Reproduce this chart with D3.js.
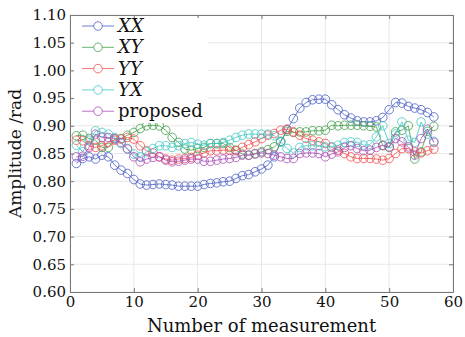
<!DOCTYPE html>
<html>
<head>
<meta charset="utf-8">
<script src="https://cdn.jsdelivr.net/npm/d3@7"></script>
<style>
  body { margin: 0; background: #fff; }
  svg text { font-family: "DejaVu Serif", "Liberation Serif", serif; }
</style>
</head>
<body>
<figure id="chart" style="margin:0"></figure>
<script>
const SERIES_NAMES = ["XX", "XY", "YY", "YX", "proposed"];
const COLORS = ["#4a5ec6", "#44a04c", "#f24f4f", "#40c6c6", "#a84eb6"];
const X_TICKS = [0, 10, 20, 30, 40, 50, 60];
const Y_TICKS = [0.60, 0.65, 0.70, 0.75, 0.80, 0.85, 0.90, 0.95, 1.00, 1.05, 1.10];

// measurement index 1..57
const xx = [0.832, 0.841, 0.844, 0.840, 0.847, 0.844, 0.829, 0.820, 0.814, 0.803,
  0.795, 0.793, 0.794, 0.795, 0.794, 0.793, 0.791, 0.791, 0.791, 0.791,
  0.794, 0.796, 0.797, 0.799, 0.800, 0.805, 0.810, 0.812, 0.817, 0.822,
  0.829, 0.844, 0.871, 0.893, 0.913, 0.932, 0.942, 0.947, 0.948, 0.948,
  0.938, 0.929, 0.920, 0.914, 0.909, 0.907, 0.907, 0.909, 0.915, 0.929,
  0.942, 0.941, 0.935, 0.932, 0.929, 0.924, 0.916];
const xy = [0.882, 0.883, 0.877, 0.874, 0.861, 0.861, 0.876, 0.877, 0.883, 0.888,
  0.895, 0.900, 0.901, 0.900, 0.892, 0.879, 0.870, 0.858, 0.856, 0.859,
  0.861, 0.868, 0.868, 0.868, 0.861, 0.856, 0.849, 0.847, 0.850, 0.853,
  0.857, 0.862, 0.872, 0.890, 0.888, 0.889, 0.889, 0.891, 0.891, 0.892,
  0.901, 0.900, 0.901, 0.901, 0.901, 0.900, 0.899, 0.898, 0.864, 0.861,
  0.889, 0.892, 0.900, 0.840, 0.853, 0.890, 0.899];
const yy = [0.874, 0.873, 0.864, 0.861, 0.864, 0.870, 0.874, 0.876, 0.879, 0.876,
  0.864, 0.855, 0.851, 0.844, 0.840, 0.838, 0.840, 0.841, 0.843, 0.847,
  0.851, 0.855, 0.855, 0.856, 0.856, 0.855, 0.861, 0.866, 0.871, 0.877,
  0.883, 0.886, 0.892, 0.894, 0.889, 0.883, 0.877, 0.874, 0.871, 0.868,
  0.861, 0.856, 0.850, 0.844, 0.841, 0.841, 0.841, 0.840, 0.838, 0.841,
  0.850, 0.859, 0.859, 0.853, 0.851, 0.855, 0.858];
const yx = [0.865, 0.853, 0.874, 0.891, 0.888, 0.885, 0.879, 0.868, 0.859, 0.849,
  0.844, 0.853, 0.859, 0.864, 0.864, 0.861, 0.864, 0.868, 0.870, 0.867,
  0.865, 0.868, 0.868, 0.870, 0.874, 0.879, 0.883, 0.885, 0.885, 0.885,
  0.885, 0.882, 0.871, 0.859, 0.851, 0.861, 0.864, 0.864, 0.864, 0.862,
  0.862, 0.865, 0.870, 0.871, 0.870, 0.865, 0.866, 0.880, 0.900, 0.868,
  0.885, 0.907, 0.874, 0.870, 0.907, 0.885, 0.872];
const proposed = [0.844, 0.845, 0.861, 0.885, 0.879, 0.879, 0.877, 0.870, 0.858, 0.844,
  0.835, 0.840, 0.843, 0.844, 0.838, 0.835, 0.836, 0.838, 0.840, 0.840,
  0.836, 0.836, 0.838, 0.840, 0.841, 0.843, 0.847, 0.847, 0.849, 0.851,
  0.850, 0.847, 0.844, 0.841, 0.841, 0.850, 0.851, 0.851, 0.850, 0.844,
  0.849, 0.853, 0.861, 0.864, 0.859, 0.855, 0.856, 0.861, 0.865, 0.862,
  0.877, 0.871, 0.862, 0.847, 0.877, 0.894, 0.870];

const allSeries = [xx, xy, yy, yx, proposed];

const W = 465, H = 337;
const margin = {top: 15, right: 12, bottom: 45, left: 70};
const width = W - margin.left - margin.right;
const height = H - margin.top - margin.bottom;

const svg = d3.select("figure#chart").append("svg")
  .attr("width", W).attr("height", H);
const g = svg.append("g")
  .attr("transform", "translate(" + margin.left + "," + margin.top + ")");

const x = d3.scaleLinear().domain([0, 60]).range([0, width]);
const y = d3.scaleLinear().domain([0.60, 1.10]).range([height, 0]);

// grid
g.append("g").selectAll("line").data(X_TICKS).enter().append("line")
  .attr("x1", d => x(d)).attr("x2", d => x(d))
  .attr("y1", 0).attr("y2", height)
  .attr("stroke", "#e8e8e8").attr("stroke-width", 1);
g.append("g").selectAll("line").data(Y_TICKS).enter().append("line")
  .attr("x1", 0).attr("x2", width)
  .attr("y1", d => y(d)).attr("y2", d => y(d))
  .attr("stroke", "#e8e8e8").attr("stroke-width", 1);

// series
const line = d3.line().x((d, i) => x(i + 1)).y(d => y(d));
allSeries.forEach((s, k) => {
  g.append("path").datum(s)
    .attr("d", line)
    .attr("fill", "none")
    .attr("stroke", COLORS[k])
    .attr("stroke-width", 0.8);
  g.append("g").selectAll("circle").data(s).enter().append("circle")
    .attr("cx", (d, i) => x(i + 1))
    .attr("cy", d => y(d))
    .attr("r", 4.3)
    .attr("fill", "none")
    .attr("stroke", COLORS[k])
    .attr("stroke-width", 0.8);
});

// axes: ticks inward on all four sides
const axisColor = "#777";
const axBottom = g.append("g").attr("transform", "translate(0," + height + ")")
  .call(d3.axisBottom(x).tickValues(X_TICKS).tickSizeInner(-4).tickSizeOuter(0).tickPadding(4));
const axLeft = g.append("g")
  .call(d3.axisLeft(y).tickValues(Y_TICKS).tickFormat(d3.format(".2f")).tickSizeInner(-4).tickSizeOuter(0).tickPadding(4));
const axTop = g.append("g")
  .call(d3.axisTop(x).tickValues(X_TICKS).tickSizeInner(-4).tickSizeOuter(0).tickFormat(""));
const axRight = g.append("g").attr("transform", "translate(" + width + ",0)")
  .call(d3.axisRight(y).tickValues(Y_TICKS).tickSizeInner(-4).tickSizeOuter(0).tickFormat(""));
[axBottom, axLeft, axTop, axRight].forEach(a => {
  a.selectAll("path").attr("stroke", axisColor);
  a.selectAll("line").attr("stroke", axisColor);
  a.selectAll("text").attr("fill", "#111").style("font-size", "15px")
    .style("font-family", "'DejaVu Serif', serif");
});

// axis labels
svg.append("text")
  .attr("x", margin.left + width / 2).attr("y", H - 5)
  .attr("text-anchor", "middle").attr("fill", "#111")
  .style("font-size", "18px")
  .text("Number of measurement");
svg.append("text")
  .attr("transform", "translate(21," + (margin.top + height / 2) + ") rotate(-90)")
  .attr("text-anchor", "middle").attr("fill", "#111")
  .style("font-size", "17px")
  .text("Amplitude /rad");

// legend
const legend = g.append("g").attr("transform", "translate(4,3)");
legend.append("rect").attr("x", 0).attr("y", 0)
  .attr("width", 134).attr("height", 105).attr("fill", "#fff");
SERIES_NAMES.forEach((name, k) => {
  const row = legend.append("g").attr("transform", "translate(0," + (8 + k * 21.3) + ")");
  row.append("line").attr("x1", 8).attr("x2", 40).attr("y1", 0).attr("y2", 0)
    .attr("stroke", COLORS[k]).attr("stroke-width", 0.8);
  row.append("circle").attr("cx", 24).attr("cy", 0).attr("r", 4.3)
    .attr("fill", "#fff").attr("stroke", COLORS[k]).attr("stroke-width", 0.8);
  row.append("text").attr("x", 44).attr("y", 6)
    .attr("fill", "#111")
    .style("font-size", "18px")
    .style("font-style", name === "proposed" ? "normal" : "italic")
    .text(name);
});
</script>
</body>
</html>
